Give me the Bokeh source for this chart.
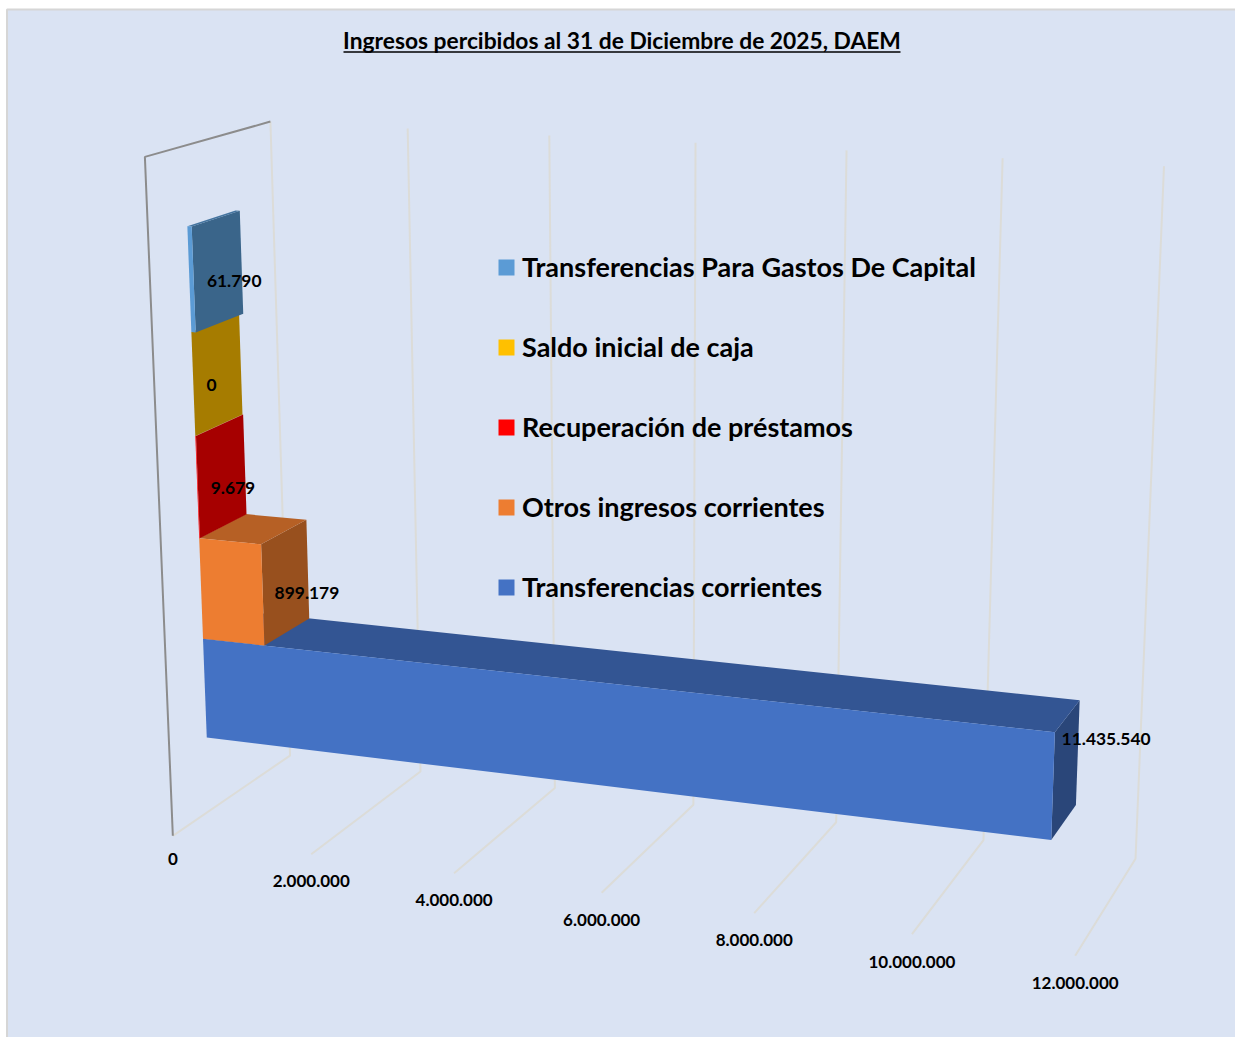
import numpy as np
from bokeh.core.properties import value
from bokeh.embed import file_html
from bokeh.models import ColumnDataSource, Legend, LegendItem
from bokeh.plotting import figure
from bokeh.resources import INLINE

# ---- chart values -------------------------------------------------------
title_text = "Ingresos percibidos al 31 de Diciembre de 2025, DAEM"
series_names = [
    "Transferencias corrientes",
    "Otros ingresos corrientes",
    "Recuperación de préstamos",
    "Saldo inicial de caja",
    "Transferencias Para Gastos De Capital",
]
series_values = [11435540, 899179, 9679, 0, 61790]
grid_values = [0, 2000000, 4000000, 6000000, 8000000, 10000000, 12000000]
grid_labels = ["0", "2.000.000", "4.000.000", "6.000.000", "8.000.000", "10.000.000", "12.000.000"]

# ---- series colours: front, top and right faces --------------------------
front_colors = ["#4472C4", "#ED7D31", "#FF0000", "#FFC000", "#5B9BD5"]
top_colors = ["#335593", "#B66025", "#BF0000", "#BF9000", "#44749F"]
side_colors = ["#2A4679", "#98501E", "#A60000", "#A67C00", "#3A658A"]

# ---- 3D box: value axis, category axis (0-1) and depth (0-1) -------------
VALUE_MAX = 12000000
CATEGORY_SPAN = 6.5
CATEGORY_START = 0.75
DEPTH_FRONT, DEPTH_BACK = 0.298, 0.685

# Camera calibration: where the box's gridline ends fall on the page.
calib_value = [v / VALUE_MAX for v in grid_values]
calib_back_floor = [(290, 755), (419, 772), (555, 790), (693, 803), (836, 820), (983, 838), (1135, 859)]
calib_back_top = [(270, 121), (407, 128), (548, 135), (695, 142), (846, 150), (1002, 158), (1164, 166)]
calib_front_floor = [(172, 835), (311, 853), (453, 872), (603, 893), (752, 913), (911, 935), (1075, 955)]
calib_front_corner = (145, 156)


def fit_camera():
    world, page = [], []
    for i, v in enumerate(calib_value):
        world += [(v, 0, 1), (v, 1, 1), (v, 0, 0)]
        page += [calib_back_floor[i], calib_back_top[i], calib_front_floor[i]]
    world.append((0, 1, 0))
    page.append(calib_front_corner)
    rows = []
    for (a, b, c), (u, w) in zip(world, page):
        rows.append([a, b, c, 1, 0, 0, 0, 0, -u * a, -u * b, -u * c, -u])
        rows.append([0, 0, 0, 0, a, b, c, 1, -w * a, -w * b, -w * c, -w])
    return np.linalg.svd(np.array(rows, dtype=float))[2][-1].reshape(3, 4)


CAMERA = fit_camera()


def project(val, cat, depth):
    """Page position of a point given by value, category and depth."""
    q = CAMERA @ np.array([val / VALUE_MAX, cat / CATEGORY_SPAN, depth, 1.0])
    return q[0] / q[2], q[1] / q[2]


def face(*corners):
    pts = [project(*c) for c in corners]
    return [p[0] for p in pts], [p[1] for p in pts]


p = figure(
    width=1235, height=1037, x_range=(0, 1235), y_range=(1037, 0),
    output_backend="svg", toolbar_location=None, min_border=0,
    background_fill_color="white", border_fill_color="white", outline_line_color=None,
)
p.axis.visible = False
p.grid.visible = False

# Chart panel
p.quad(left=[6.5], right=[1236], top=[9], bottom=[1038],
       fill_color="#DAE3F3", line_color="#D6D6D6", line_width=2)

# Gridlines on the back wall and the floor
GRID_COLOR = "#DCDCD8"
for v in grid_values:
    xs, ys = face((v, CATEGORY_SPAN, 1), (v, 0, 1), (v, 0, 0))
    p.line(xs, ys, line_color=GRID_COLOR, line_width=2)

# Dark frame of the zero plane
xs, ys = face((0, 0, 0), (0, CATEGORY_SPAN, 0), (0, CATEGORY_SPAN, 1))
p.line(xs, ys, line_color="#8C8C8C", line_width=2)

# Bars, stacked along the category axis, bottom one first
legend_items = []
for i, (name, val) in enumerate(zip(series_names, series_values)):
    c0, c1 = CATEGORY_START + i, CATEGORY_START + i + 1
    d0, d1 = DEPTH_FRONT, DEPTH_BACK
    xs, ys = face((val, c0, d0), (val, c1, d0), (val, c1, d1), (val, c0, d1))
    p.patch(xs, ys, fill_color=side_colors[i], line_color=None)
    xs, ys = face((0, c1, d0), (val, c1, d0), (val, c1, d1), (0, c1, d1))
    p.patch(xs, ys, fill_color=top_colors[i], line_color=None)
    xs, ys = face((0, c0, d0), (val, c0, d0), (val, c1, d0), (0, c1, d0))
    front = p.patch(xs, ys, fill_color=front_colors[i], line_color=None)
    legend_items.append(LegendItem(label=name, renderers=[front]))

# Value labels, placed from the centre of each bar's right face
FONT = value("Lato")
label_nudge = [(-4, -30), (-11, 11), (-11, 12), (-11, 11), (-11, 10)]
lx, ly, lt = [], [], []
for i, val in enumerate(series_values):
    x, y = project(val, CATEGORY_START + i + 0.5, (DEPTH_FRONT + DEPTH_BACK) / 2)
    lx.append(x + label_nudge[i][0])
    ly.append(y + label_nudge[i][1])
    lt.append(f"{val:,}".replace(",", "."))
p.text(lx, ly, text=lt, text_font=FONT, text_font_style="bold", text_font_size="17.4px",
       text_color="black", text_align="left", text_baseline="middle")

# Value axis labels under the front ends of the floor gridlines
axis_drop = [23, 27, 27, 27, 27, 27.5, 27.5]
axis_pts = [project(v, 0, 0) for v in grid_values]
source = ColumnDataSource(dict(
    x=[a[0] for a in axis_pts],
    y=[a[1] + d for a, d in zip(axis_pts, axis_drop)],
    t=grid_labels,
))
p.text("x", "y", text="t", source=source, text_font=FONT, text_font_style="bold",
       text_font_size="17px", text_color="black", text_align="center", text_baseline="middle")

# Title with its underline
p.text([621.5], [39], text=[title_text], text_font=FONT, text_font_style="bold",
       text_font_size="22.8px", text_color="black", text_align="center", text_baseline="middle")
p.line([343, 900], [51.5, 51.5], line_color="black", line_width=1.5)

legend = Legend(
    items=legend_items[::-1], location=(496, 1037 - 603),
    background_fill_alpha=0, border_line_color=None, padding=0, margin=0,
    glyph_width=20, glyph_height=20, label_standoff=6, spacing=47, label_height=30,
    label_text_font="Lato", label_text_font_style="bold", label_text_font_size="27px",
    label_text_color="black",
)
p.add_layout(legend, "center")

open("out.html", "w").write(file_html(p, INLINE))
